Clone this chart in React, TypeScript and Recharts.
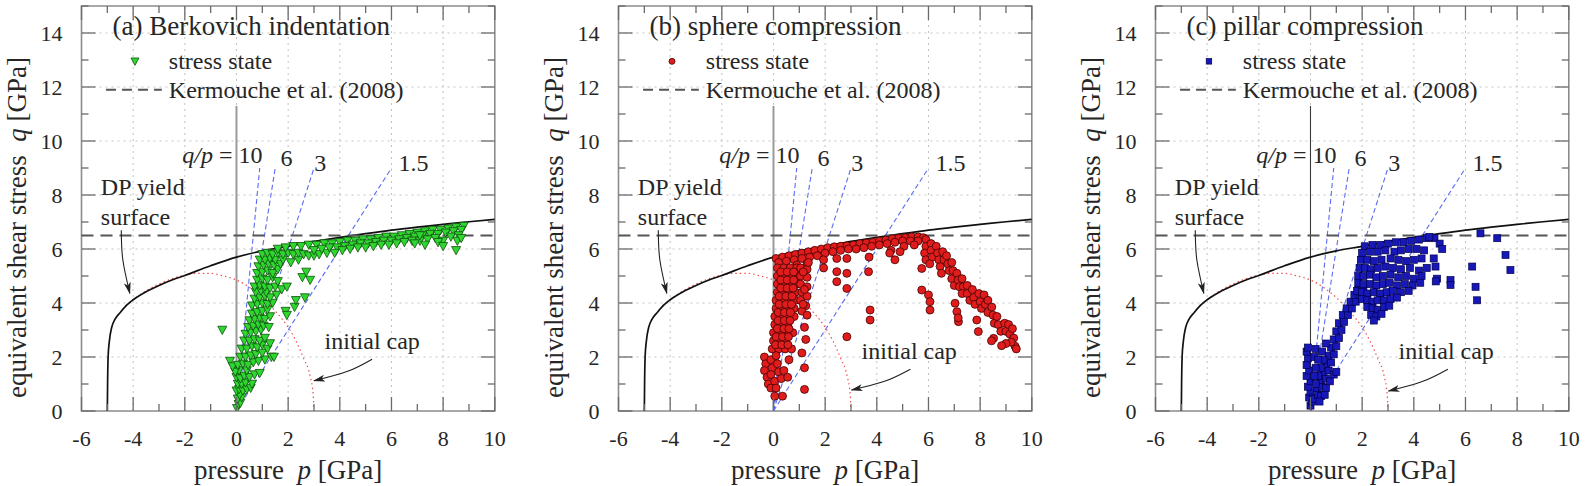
import React from 'react';
import { ComposedChart, XAxis, YAxis, Scatter, Line, ReferenceLine, ReferenceDot, ReferenceArea } from 'recharts';

type Pt = [number, number];

// axes
const P_TICKS = [-6, -5, -4, -3, -2, -1, 0, 1, 2, 3, 4, 5, 6, 7, 8, 9, 10];
const Q_TICKS = [0, 1, 2, 3, 4, 5, 6, 7, 8, 9, 10, 11, 12, 13, 14, 15];
const GRID_P = [-4, -2, 0, 2, 4, 6, 8];
const GRID_Q = [2, 4, 6, 8, 10, 12, 14];

// reference curves
const RATIOS = [10, 6, 3, 1.5];
const RAY_TOP = 9;
const KERMOUCHE_Q = 6.5;
const P_ZERO_TOP = 11.3;

const DP_SURFACE: Pt[] = [
  [-5, 0], [-4.99, 1.0], [-4.97, 2.0], [-4.92, 2.6], [-4.83, 3.1], [-4.7, 3.4], [-4.5, 3.65],
  [-4.25, 3.92], [-4, 4.12], [-3.5, 4.42], [-3, 4.65], [-2.5, 4.85], [-2, 5.02], [-1, 5.38],
  [0, 5.7], [1, 5.93], [2, 6.1], [3, 6.28], [4, 6.43], [5, 6.57], [6, 6.7], [7, 6.81],
  [8, 6.91], [9, 7.01], [10, 7.1],
];

const INITIAL_CAP: Pt[] = [
  [-4.3, 3.9], [-4, 4.12], [-3.5, 4.45], [-3, 4.7], [-2.5, 4.9], [-2, 5.03], [-1.5, 5.1],
  [-1, 5.1], [-0.5, 5.0], [0, 4.85], [0.5, 4.58], [1, 4.2], [1.5, 3.7], [2, 3.1], [2.3, 2.6],
  [2.6, 1.95], [2.85, 1.3], [2.97, 0.6], [3.0, 0],
];

// stress states, (a) Berkovich indentation
const BERKOVICH: Pt[] = [
  [0.02, 0.1], [0.08, 0.25], [0.15, 0.3], [0.05, 0.45], [0.2, 0.5], [0.12, 0.6],
  [0.0, 0.75], [0.1, 0.8], [0.25, 0.75], [0.4, 0.8], [0.55, 0.85], [0.05, 1.0], [0.2, 1.0], [0.35, 1.05], [0.6, 1.0],
  [0.0, 1.25], [0.15, 1.2], [0.3, 1.3], [0.5, 1.25], [0.7, 1.35], [0.9, 1.4], [0.1, 1.5], [0.4, 1.5], [-0.05, 1.45],
  [-0.25, 1.85], [-0.15, 1.65], [0.05, 1.7], [0.25, 1.75], [0.45, 1.7], [0.65, 1.8], [0.85, 1.85], [1.1, 1.9],
  [1.35, 2.0], [1.45, 2.0], [0.15, 2.0], [0.35, 2.0], [0.55, 2.05], [0.75, 2.1], [1.0, 2.15],
  [0.2, 2.3], [0.4, 2.3], [0.6, 2.4], [0.8, 2.35], [1.0, 2.45], [1.2, 2.3], [1.3, 2.5], [0.3, 2.6], [0.5, 2.6],
  [0.7, 2.65], [0.9, 2.6], [1.1, 2.7],
  [0.35, 2.85], [0.55, 2.9], [0.75, 2.95], [0.95, 3.0], [0.45, 3.1], [0.65, 3.15], [0.85, 3.2], [1.05, 3.15], [1.25, 3.1],
  [0.5, 3.35], [0.7, 3.4], [0.9, 3.45], [1.1, 3.4], [1.3, 3.5], [0.6, 3.6], [0.8, 3.65], [1.0, 3.7], [1.2, 3.75],
  [1.9, 3.7], [2.25, 3.85], [1.95, 3.55],
  [0.6, 3.9], [0.8, 3.95], [1.0, 4.0], [1.2, 3.95], [1.4, 4.0], [0.7, 4.15], [0.9, 4.2], [1.1, 4.25], [1.3, 4.2],
  [1.55, 4.3], [2.65, 4.2], [2.3, 4.1], [0.75, 4.4], [0.95, 4.45], [1.15, 4.4],
  [0.7, 4.6], [0.9, 4.65], [1.1, 4.6], [1.3, 4.55], [1.5, 4.6], [1.75, 4.5], [1.95, 4.6], [0.8, 4.85], [1.0, 4.9],
  [1.2, 4.85], [1.4, 4.95], [1.6, 4.8], [2.55, 4.95], [2.85, 4.85], [2.7, 5.15],
  [0.8, 5.1], [1.0, 5.15], [1.2, 5.2], [1.4, 5.1], [1.6, 5.25], [0.85, 5.35], [1.05, 5.4], [1.25, 5.45], [1.45, 5.4],
  [1.7, 5.45], [0.9, 5.6], [1.1, 5.6], [1.3, 5.65], [1.5, 5.6], [1.8, 5.6], [2.1, 5.5], [2.4, 5.6],
  [1.0, 5.8], [1.2, 5.85], [1.4, 5.8], [1.6, 5.85], [1.8, 5.8], [2.0, 5.85], [2.2, 5.8], [2.4, 5.85], [2.6, 5.8],
  [2.8, 5.75], [3.0, 5.75], [3.2, 5.8], [3.5, 5.85],
  [1.6, 6.0], [1.9, 6.05], [2.2, 6.1], [2.5, 6.1], [2.8, 6.15], [3.1, 6.15], [3.4, 6.2], [3.7, 6.2], [4.0, 6.25],
  [4.3, 6.3], [4.6, 6.3], [4.9, 6.35], [5.2, 6.35], [5.5, 6.4], [5.8, 6.45], [6.1, 6.45], [6.4, 6.5], [6.7, 6.55],
  [7.0, 6.6], [7.3, 6.65], [7.6, 6.7], [7.9, 6.7], [8.2, 6.75], [8.5, 6.8], [8.8, 6.85],
  [3.0, 5.95], [3.3, 6.0], [3.6, 6.05], [3.9, 6.05], [4.2, 6.1], [4.5, 6.15], [4.8, 6.2], [5.1, 6.2], [5.4, 6.25],
  [5.7, 6.3], [6.0, 6.3], [6.3, 6.35], [6.6, 6.4], [6.9, 6.45], [7.2, 6.5], [7.5, 6.55], [7.8, 6.55], [8.1, 6.6],
  [8.4, 6.65], [8.7, 6.7],
  [3.8, 5.85], [4.1, 5.95], [4.4, 6.0], [4.7, 6.05], [5.0, 6.05], [5.3, 6.1], [5.6, 6.15], [5.9, 6.15], [6.2, 6.2],
  [6.5, 6.25], [6.8, 6.3], [7.1, 6.3], [7.4, 6.35], [7.7, 6.4], [8.0, 6.3], [8.3, 6.45], [8.6, 6.5],
  [6.9, 6.2], [7.3, 6.15], [7.8, 6.25], [8.0, 6.1], [8.5, 5.95], [8.55, 6.3], [8.7, 6.4], [7.1, 6.5],
  [-0.55, 3.0],
];

// stress states, (b) sphere compression
const SPHERE: Pt[] = [
  [0.1, 5.65], [0.35, 5.7], [0.6, 5.75], [0.85, 5.8], [1.1, 5.85], [1.35, 5.9], [1.6, 5.95], [1.85, 6.0], [2.1, 6.05],
  [2.35, 6.08], [2.6, 6.1], [2.85, 6.12], [3.1, 6.15], [3.35, 6.2], [3.6, 6.22], [3.85, 6.25], [4.1, 6.3], [4.35, 6.33],
  [4.6, 6.38], [4.85, 6.4], [5.1, 6.42], [5.35, 6.45], [5.6, 6.45], [5.8, 6.42],
  [0.2, 5.5], [0.5, 5.55], [0.8, 5.6], [1.1, 5.65], [1.4, 5.7], [1.7, 5.75], [2.0, 5.85], [2.3, 5.9], [2.6, 5.95],
  [2.9, 6.0], [3.2, 6.0], [3.5, 6.05], [3.8, 6.1], [4.1, 6.15], [4.4, 6.2], [4.7, 6.25], [5.0, 6.3], [5.3, 6.3], [5.6, 6.3],
  [0.9, 5.4], [1.3, 5.45], [4.55, 5.95], [5.05, 6.1], [5.45, 6.15], [4.9, 5.9], [4.7, 5.6],
  [0.15, 5.3], [0.4, 5.3], [0.65, 5.3], [0.9, 5.3], [0.15, 5.0], [0.4, 5.0], [0.65, 5.0], [0.9, 5.0],
  [0.15, 4.7], [0.4, 4.7], [0.65, 4.7], [0.9, 4.7], [0.15, 4.4], [0.4, 4.4], [0.65, 4.4], [0.85, 4.4],
  [0.1, 4.1], [0.35, 4.1], [0.6, 4.1], [0.85, 4.1], [0.1, 3.8], [0.35, 3.8], [0.6, 3.8], [0.8, 3.8],
  [0.05, 3.5], [0.3, 3.5], [0.55, 3.5], [0.8, 3.5], [0.05, 3.2], [0.3, 3.2], [0.55, 3.2],
  [0.0, 2.9], [0.25, 2.9], [0.5, 2.9], [0.75, 2.9], [0.0, 2.6], [0.2, 2.6], [0.45, 2.6],
  [-0.05, 2.3], [0.2, 2.3], [0.45, 2.3], [0.7, 2.3],
  [0.28, 5.15], [0.53, 5.15], [0.78, 5.15], [0.28, 4.85], [0.53, 4.85], [0.78, 4.85], [0.28, 4.55], [0.53, 4.55],
  [0.76, 4.55], [0.22, 4.25], [0.48, 4.25], [0.72, 4.25], [0.22, 3.95], [0.48, 3.95], [0.7, 3.95], [0.18, 3.65],
  [0.42, 3.65], [0.66, 3.65], [0.18, 3.35], [0.42, 3.35], [0.64, 3.35], [0.15, 3.05], [0.4, 3.05], [0.6, 3.05],
  [0.1, 2.75], [0.35, 2.75], [0.58, 2.75], [0.08, 2.45], [0.32, 2.45], [0.56, 2.45],
  [1.05, 5.3], [1.3, 5.25], [1.05, 5.0], [1.3, 4.95], [1.05, 4.7], [1.3, 4.6], [1.1, 4.4], [1.3, 4.25], [1.05, 4.1],
  [1.25, 3.9], [1.1, 3.7], [1.3, 3.55], [1.2, 3.1], [1.25, 2.65], [1.1, 2.15], [1.2, 1.6], [1.2, 0.8],
  [1.15, 5.15], [1.2, 4.5], [1.15, 3.95], [1.35, 5.5],
  [-0.35, 2.0], [-0.3, 1.75], [-0.35, 1.5], [-0.25, 1.25], [-0.2, 1.0], [-0.1, 0.85], [-0.1, 1.9], [-0.05, 1.6],
  [-0.1, 1.35], [0.05, 1.1], [0.1, 0.85], [0.1, 2.05], [0.15, 1.75], [0.2, 1.45], [0.3, 1.2], [0.4, 1.5], [0.55, 1.25],
  [0.6, 1.9], [0.35, 0.55], [0.05, 0.55],
  [1.94, 5.6], [1.94, 5.3], [2.45, 5.65], [2.45, 5.16], [2.45, 4.79], [2.84, 5.65], [2.84, 5.1], [2.84, 4.54],
  [3.68, 5.16], [3.74, 3.74], [3.74, 3.37], [2.84, 2.75], [3.7, 5.7], [4.5, 5.85],
  [5.9, 6.35], [5.9, 6.1], [5.85, 5.85], [5.9, 5.6], [6.1, 6.2], [6.1, 5.95], [6.15, 5.7], [6.05, 5.45],
  [6.3, 6.1], [6.35, 5.85], [6.4, 5.6], [6.45, 5.35], [6.55, 5.9], [6.6, 5.6], [6.5, 5.1],
  [6.7, 5.75], [6.75, 5.45], [6.8, 5.2], [6.9, 5.5], [6.95, 5.2], [6.9, 4.9], [7.0, 4.65],
  [7.1, 5.1], [7.15, 4.85], [7.2, 4.6], [7.3, 4.9], [7.35, 4.6], [7.3, 4.35],
  [7.5, 4.65], [7.5, 4.35], [7.6, 4.1], [7.7, 4.5], [7.75, 4.2], [7.8, 3.95],
  [7.95, 4.35], [8.0, 4.05], [8.05, 3.8], [8.15, 4.3], [8.2, 3.95], [8.3, 3.65], [8.3, 4.1],
  [8.45, 3.85], [8.5, 3.55], [8.55, 3.25], [8.65, 3.5], [8.7, 3.2], [8.8, 2.95],
  [8.95, 3.25], [9.0, 2.95], [9.1, 3.2], [9.15, 2.85], [9.25, 3.05], [9.3, 2.7], [9.35, 2.4], [9.4, 2.3], [9.2, 2.55],
  [5.74, 5.28], [5.74, 4.48], [6.0, 4.3], [6.06, 4.05], [6.06, 3.74], [7.03, 3.99], [7.1, 3.68], [7.16, 3.31],
  [7.87, 3.37], [7.93, 2.94], [8.52, 2.69], [9.0, 2.5], [7.15, 3.45], [8.44, 2.6], [8.83, 2.42],
];

// stress states, (c) pillar compression
const PILLAR: Pt[] = [
  [0.0, 0.2], [0.05, 0.35], [-0.05, 0.5], [0.0, 0.7], [-0.1, 0.9], [0.0, 1.1], [-0.15, 1.3], [-0.05, 1.5],
  [-0.15, 1.7], [-0.1, 1.95], [-0.15, 2.2], [-0.1, 2.35], [0.2, 2.3], [0.15, 2.0], [0.1, 0.5],
  [0.15, 0.45], [0.3, 0.6], [0.25, 0.85], [0.45, 0.9], [0.4, 1.15], [0.6, 1.2], [0.5, 1.45], [0.7, 1.5],
  [0.6, 1.75], [0.8, 1.8], [0.7, 2.05], [0.9, 2.1], [0.8, 2.35], [1.0, 2.4], [0.9, 2.65], [1.1, 2.7],
  [1.0, 2.95], [1.2, 3.0], [1.1, 3.25], [1.3, 3.3], [1.25, 3.55], [1.45, 3.55], [1.4, 3.8], [1.6, 3.8],
  [1.55, 4.05], [1.75, 4.05], [1.7, 4.3], [1.9, 4.3], [1.85, 4.5], [2.05, 4.55],
  [0.4, 0.55], [0.6, 0.85], [0.75, 1.1], [0.9, 1.35], [1.0, 1.45], [0.55, 0.6], [0.35, 0.35],
  [0.2, 1.0], [0.3, 1.3], [0.4, 1.6], [0.5, 1.9], [0.2, 1.6], [0.3, 1.9], [0.45, 2.2], [0.6, 2.5], [0.15, 1.3],
  [2.1, 6.1], [2.4, 6.15], [2.7, 6.15], [3.0, 6.2], [3.3, 6.25], [3.6, 6.25], [3.9, 6.3], [4.2, 6.35], [4.5, 6.4], [4.8, 6.4],
  [2.0, 5.85], [2.3, 5.9], [2.6, 5.9], [2.9, 5.95], [3.25, 5.9], [3.5, 5.95], [3.8, 6.0], [4.1, 6.0], [4.4, 5.95],
  [1.95, 5.6], [2.2, 5.6], [2.45, 5.55], [2.75, 5.6], [3.1, 5.65], [3.4, 5.6], [3.7, 5.55], [4.0, 5.6], [4.3, 5.65],
  [1.9, 5.3], [2.1, 5.3], [2.35, 5.25], [2.6, 5.3], [2.9, 5.35], [3.2, 5.3], [3.5, 5.25], [3.85, 5.3], [4.2, 5.2], [4.5, 5.3],
  [1.85, 5.0], [2.05, 5.0], [2.3, 5.05], [2.55, 4.95], [2.8, 5.0], [3.1, 5.05], [3.4, 4.95], [3.7, 5.0], [4.0, 4.9], [4.3, 5.0],
  [1.85, 4.75], [2.05, 4.7], [2.3, 4.7], [2.55, 4.65], [2.8, 4.7], [3.05, 4.75], [3.35, 4.65], [3.65, 4.7], [3.95, 4.65], [4.25, 4.75],
  [1.8, 4.45], [2.0, 4.4], [2.2, 4.35], [2.45, 4.4], [2.7, 4.35], [2.95, 4.4], [3.2, 4.45], [3.5, 4.4], [3.8, 4.45],
  [2.0, 4.15], [2.2, 4.1], [2.4, 4.05], [2.6, 4.1], [2.85, 4.1], [3.1, 4.15], [3.35, 4.2],
  [2.2, 3.85], [2.4, 3.8], [2.6, 3.75], [2.85, 3.85], [3.05, 3.9],
  [2.35, 3.55], [2.55, 3.5], [2.75, 3.6], [2.45, 3.35],
  [4.77, 5.65], [4.84, 5.35], [4.9, 4.9], [4.85, 4.8], [5.42, 4.85], [5.42, 4.67], [6.26, 5.35], [6.39, 4.6],
  [6.45, 4.1], [6.58, 6.58], [7.23, 6.4], [7.55, 5.78], [7.74, 5.22], [5.0, 6.2], [5.1, 6.0], [4.6, 6.45],
];

// layout
const CHART_W = 510;
const CHART_H = 486;
const PLOT_W = 413.3;
const PLOT_H = 405;
const MARGIN = { top: 6, right: CHART_W - 81.5 - PLOT_W, bottom: 15, left: 21.5 };

const FONT = '"Liberation Serif", "Times New Roman", serif';
const INK = '#262626';
const FRAME = '#8c8c8c';
const TICK = '#6a6a6a';
const GRID = '#c2c2c2';

const toRows = (pts: Pt[]) => pts.map(([p, q]) => ({ p, q }));

type MarkerKind = 'triangle' | 'circle' | 'square';

const drawMarker = (kind: MarkerKind, cx: number, cy: number, s: number) => {
  if (kind === 'triangle') {
    return (
      <path
        d={`M${cx - s / 2},${cy - s * 0.42}L${cx + s / 2},${cy - s * 0.42}L${cx},${cy + s * 0.5}Z`}
        fill="#2fd62f"
        stroke="#0d520d"
        strokeWidth={0.8}
      />
    );
  }
  if (kind === 'circle') {
    return <circle cx={cx} cy={cy} r={s / 2} fill="#e01c1c" stroke="#430202" strokeWidth={0.8} />;
  }
  return <rect x={cx - s / 2} y={cy - s / 2} width={s} height={s} fill="#1818b8" stroke="#00004d" strokeWidth={0.7} />;
};

const renderXTick = (props: any) => {
  const { x, y, payload } = props;
  const v = payload.value as number;
  const major = v % 2 === 0;
  const len = major ? 14 : 7;
  return (
    <g>
      <line x1={x} y1={y} x2={x} y2={y - len} stroke={TICK} strokeWidth={1.3} />
      <line x1={x} y1={y - PLOT_H} x2={x} y2={y - PLOT_H + len} stroke={TICK} strokeWidth={1.3} />
      {major && (
        <text x={x} y={y + 27} textAnchor="middle" dominantBaseline="central" fontFamily={FONT} fontSize={22} fill={INK}>
          {v}
        </text>
      )}
    </g>
  );
};

const renderYTick = (props: any) => {
  const { x, y, payload } = props;
  const v = payload.value as number;
  const major = v % 2 === 0;
  const len = major ? 14 : 7;
  return (
    <g>
      <line x1={x} y1={y} x2={x + len} y2={y} stroke={TICK} strokeWidth={1.3} />
      <line x1={x + PLOT_W} y1={y} x2={x + PLOT_W - len} y2={y} stroke={TICK} strokeWidth={1.3} />
      {major && (
        <text x={x - 19} y={y} textAnchor="end" dominantBaseline="central" fontFamily={FONT} fontSize={22} fill={INK}>
          {v}
        </text>
      )}
    </g>
  );
};

const renderXTitle = (props: any) => {
  const vb = props.viewBox;
  return (
    <text x={vb.x + vb.width / 2} y={vb.y + 59} textAnchor="middle" dominantBaseline="central" fontFamily={FONT} fontSize={27} fill={INK}>
      pressure{'\u00a0\u00a0'}<tspan fontStyle="italic">p</tspan> [GPa]
    </text>
  );
};

const renderYTitle = (props: any) => {
  const vb = props.viewBox;
  const cx = vb.x - 5;
  const cy = vb.y + vb.height / 2 + 19;
  return (
    <text x={cx} y={cy} transform={`rotate(-90, ${cx}, ${cy})`} textAnchor="middle" dominantBaseline="central" fontFamily={FONT} fontSize={27} fill={INK}>
      equivalent shear stress{'\u00a0\u00a0'}<tspan fontStyle="italic">q</tspan> [GPa]
    </text>
  );
};

const note = (key: string, p: number, q: number, body: React.ReactNode, size = 24, anchor: 'start' | 'middle' = 'start') => (
  <ReferenceDot
    key={key}
    x={p}
    y={q}
    r={0}
    ifOverflow="visible"
    shape={(s: any) => (
      <text x={s.cx} y={s.cy} fontFamily={FONT} fontSize={size} fill={INK} textAnchor={anchor} dominantBaseline="central">
        {body}
      </text>
    )}
  />
);

type PanelCfg = {
  title: string;
  points: Pt[];
  marker: MarkerKind;
  size: number;
  legendSize: number;
  axisStroke: string;
  axisWidth: number;
  capNoteQ: number;
  capArrow: Pt[];
};

const PANELS: PanelCfg[] = [
  {
    title: '(a) Berkovich indentation', points: BERKOVICH, marker: 'triangle', size: 9, legendSize: 8,
    axisStroke: '#9a9a9a', axisWidth: 2, capNoteQ: 2.6, capArrow: [[5.25, 1.92], [4.3, 1.47], [3.0, 1.12]],
  },
  {
    title: '(b) sphere compression', points: SPHERE, marker: 'circle', size: 8, legendSize: 6,
    axisStroke: '#9a9a9a', axisWidth: 2, capNoteQ: 2.23, capArrow: [[5.3, 1.55], [4.3, 1.1], [3.02, 0.78]],
  },
  {
    title: '(c) pillar compression', points: PILLAR, marker: 'square', size: 7, legendSize: 5.5,
    axisStroke: '#3a3a3a', axisWidth: 1.1, capNoteQ: 2.23, capArrow: [[5.32, 1.55], [4.3, 1.08], [3.02, 0.74]],
  },
];

const DP_ARROW: Pt[] = [[-4.46, 6.69], [-4.4, 5.6], [-4.13, 4.36]];
const RAY_LABELS: { p: number; q: number }[] = [
  { p: -2.1, q: 9.48 },
  { p: 1.94, q: 9.36 },
  { p: 3.24, q: 9.2 },
  { p: 6.85, q: 9.2 },
];

function Panel({ cfg, left }: { cfg: PanelCfg; left: number }) {
  return (
    <div style={{ position: 'absolute', left, top: 0 }}>
      <ComposedChart width={CHART_W} height={CHART_H} margin={MARGIN}>
        <XAxis
          type="number"
          dataKey="p"
          domain={[-6, 10]}
          ticks={P_TICKS}
          interval={0}
          allowDataOverflow
          axisLine={false}
          tickLine={false}
          tickSize={0}
          tickMargin={0}
          height={60}
          tick={renderXTick}
          label={renderXTitle}
        />
        <YAxis
          type="number"
          dataKey="q"
          domain={[0, 15]}
          ticks={Q_TICKS}
          interval={0}
          allowDataOverflow
          axisLine={false}
          tickLine={false}
          tickSize={0}
          tickMargin={0}
          width={60}
          tick={renderYTick}
          label={renderYTitle}
        />
        {GRID_P.map((v) => (
          <ReferenceLine key={`gp${v}`} x={v} stroke={GRID} strokeDasharray="2 4" strokeWidth={1} />
        ))}
        {GRID_Q.map((v) => (
          <ReferenceLine key={`gq${v}`} y={v} stroke={GRID} strokeDasharray="2 4" strokeWidth={1} />
        ))}
        <ReferenceLine segment={[{ x: 0, y: 0 }, { x: 0, y: P_ZERO_TOP }]} stroke={cfg.axisStroke} strokeWidth={cfg.axisWidth} />

        <Scatter
          data={toRows(cfg.points)}
          isAnimationActive={false}
          shape={(s: any) => drawMarker(cfg.marker, s.cx, s.cy, cfg.size)}
        />

        <Line data={toRows(INITIAL_CAP)} dataKey="q" type="monotone" stroke="#f05050" strokeWidth={1.2} strokeDasharray="1.5 3" dot={false} activeDot={false} isAnimationActive={false} />
        {RATIOS.map((r) => (
          <ReferenceLine
            key={`ray${r}`}
            segment={[{ x: 0, y: 0 }, { x: RAY_TOP / r, y: RAY_TOP }]}
            stroke="#5b6cf2"
            strokeWidth={1.1}
            strokeDasharray="5 3"
          />
        ))}
        <Line data={toRows(DP_SURFACE)} dataKey="q" type="monotone" stroke="#111111" strokeWidth={1.7} dot={false} activeDot={false} isAnimationActive={false} />
        <ReferenceLine y={KERMOUCHE_Q} stroke="#555555" strokeWidth={2} strokeDasharray="12 7" />

        <Line data={toRows(DP_ARROW)} dataKey="q" type="natural" stroke="#222222" strokeWidth={1.1} dot={false} activeDot={false} markerEnd="url(#arrowHead)" isAnimationActive={false} />
        <Line data={toRows(cfg.capArrow)} dataKey="q" type="natural" stroke="#222222" strokeWidth={1.1} dot={false} activeDot={false} markerEnd="url(#arrowHead)" isAnimationActive={false} />

        {/* legend */}
        <ReferenceDot x={-3.93} y={12.95} r={0} ifOverflow="visible" shape={(s: any) => drawMarker(cfg.marker, s.cx, s.cy, cfg.legendSize)} />
        <ReferenceLine segment={[{ x: -5.05, y: 11.9 }, { x: -2.89, y: 11.9 }]} stroke="#555555" strokeWidth={2} strokeDasharray="10 6" />
        {note('leg1', -2.62, 12.95, 'stress state')}
        {note('leg2', -2.62, 11.9, 'Kermouche et al. (2008)')}

        {note('title', -4.8, 14.25, cfg.title, 27)}
        {note('dp1', -5.25, 8.3, 'DP yield')}
        {note('dp2', -5.25, 7.19, 'surface')}
        {note('cap', 3.41, cfg.capNoteQ, 'initial cap')}
        {RATIOS.map((r, i) =>
          note(
            `rl${r}`,
            RAY_LABELS[i].p,
            RAY_LABELS[i].q,
            i === 0 ? (
              <>
                <tspan fontStyle="italic">q/p</tspan> = {r}
              </>
            ) : (
              String(r)
            ),
            24,
            i === 0 ? 'start' : 'middle'
          )
        )}

        <ReferenceArea x1={-6} x2={10} y1={0} y2={15} fill="none" stroke={FRAME} strokeWidth={1.6} ifOverflow="visible" />
      </ComposedChart>
    </div>
  );
}

export default function App() {
  const lefts = [0, 536.8, 1073.5];
  return (
    <div style={{ position: 'absolute', left: 0, top: 0, width: 1588, height: 486, overflow: 'hidden', background: '#ffffff' }}>
      <svg width={0} height={0} style={{ position: 'absolute' }}>
        <defs>
          <marker id="arrowHead" viewBox="0 0 12 8" refX="11" refY="4" markerWidth="12" markerHeight="8" markerUnits="userSpaceOnUse" orient="auto">
            <path d="M0,0.5 L12,4 L0,7.5 L3,4 Z" fill="#222222" />
          </marker>
        </defs>
      </svg>
      {PANELS.map((cfg, i) => (
        <Panel key={cfg.title} cfg={cfg} left={lefts[i]} />
      ))}
    </div>
  );
}
